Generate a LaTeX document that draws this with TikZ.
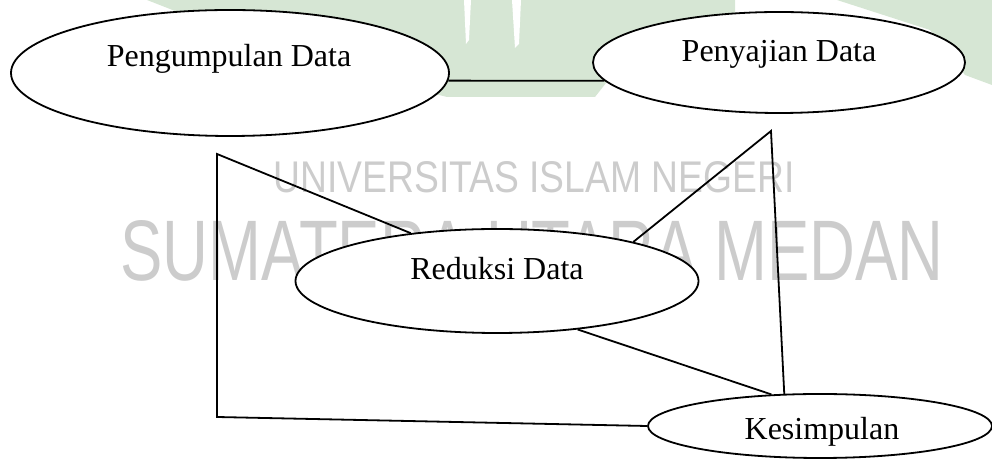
\documentclass[tikz,border=0pt]{standalone}
\usepackage{fontspec}
\setmainfont{Liberation Serif}
\newfontfamily\wmfont{Liberation Sans}
\usetikzlibrary{shapes.geometric}
\definecolor{wmgreen}{RGB}{214,230,212}
\definecolor{wmgray}{RGB}{204,204,204}
\begin{document}
\begin{tikzpicture}[x=0.5pt,y=-0.5pt,
  bubble/.style={ellipse,draw,fill=white,line width=0.9pt,inner sep=0pt},
  lbl/.style={font=\fontsize{16}{19}\selectfont,inner sep=0pt,anchor=base},
  link/.style={line width=0.9pt},
  wm/.style={text=wmgray,inner sep=0pt,anchor=south west,font=\wmfont}]
\useasboundingbox (0,0) rectangle (992,459);
% watermark logo fragments
\fill[wmgreen] (147,0) -- (735,0) -- (735,15) -- (640,40) -- (595,97) -- (447,97) -- (300,60) -- cycle;
\fill[wmgreen] (837,0) -- (992,0) -- (992,85) -- (965,75) -- (930,30) -- cycle;
\fill[white] (464,0) -- (471,0) -- (469,40) -- (466,44) -- cycle;
\fill[white] (512,0) -- (521,0) -- (519,44) -- (515,48) -- cycle;
% watermark text
\node[wm] (wm1) at (273,193) {\resizebox{260.5pt}{15.5pt}{UNIVERSITAS ISLAM NEGERI}};
\node[wm] (wm2) at (120,282) {\resizebox{411.5pt}{30pt}{SUMATERA UTARA MEDAN}};
% ellipses
\node[bubble,minimum width=219pt,minimum height=63pt] (pd) at (230,73) {};
\node[lbl] (pdt) at (229,67) {Pengumpulan Data};
\node[bubble,minimum width=186pt,minimum height=50.5pt] (pv) at (779,62.5) {};
\node[lbl] (pvt) at (779,62) {Penyajian Data};
\node[bubble,minimum width=201.5pt,minimum height=52pt] (rd) at (497,281) {};
\node[lbl] (rdt) at (497,280) {Reduksi Data};
\node[bubble,minimum width=172pt,minimum height=32pt] (ks) at (820,426) {};
\node[lbl] (kst) at (822,440) {Kesimpulan};
% connectors
\coordinate (c1) at (217,154);
\coordinate (c2) at (217,417);
\coordinate (c3) at (771,131);
\draw[link] (pd.-2) -- (pv.186);
\draw[link] (rd.151) -- (c1) -- (c2) -- (ks.west);
\draw[link] (rd.16) -- (c3) -- (ks.138);
\draw[link] (rd.-31) -- (ks.147);
\end{tikzpicture}
\end{document}
